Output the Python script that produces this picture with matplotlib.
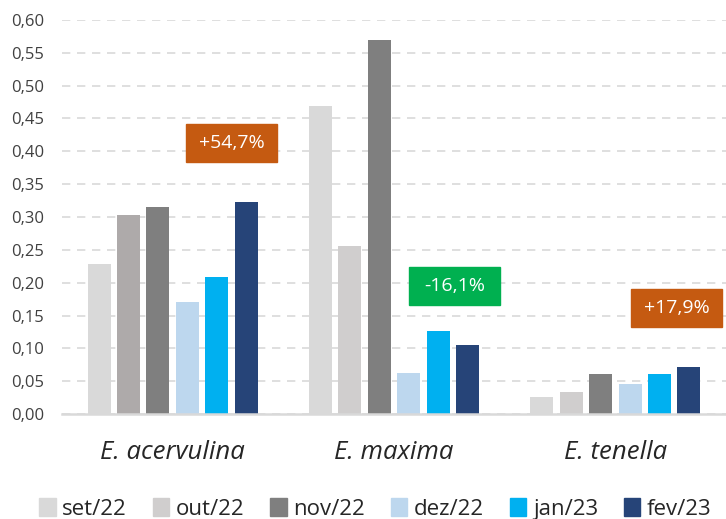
import numpy as np
import matplotlib
matplotlib.use("Agg")
import matplotlib.pyplot as plt
from matplotlib.patches import Rectangle, Patch

plt.rcParams['font.family'] = ['Open Sans', 'DejaVu Sans']

# data
species = ['E. acervulina', 'E. maxima', 'E. tenella']
months = ['set/22', 'out/22', 'nov/22', 'dez/22', 'jan/23', 'fev/23']
values = {
    'set/22': [0.229, 0.469, 0.026],
    'out/22': [0.303, 0.256, 0.034],
    'nov/22': [0.315, 0.569, 0.061],
    'dez/22': [0.171, 0.062, 0.045],
    'jan/23': [0.209, 0.126, 0.061],
    'fev/23': [0.323, 0.105, 0.071],
}
changes = ['+54,7%', '-16,1%', '+17,9%']

colors = ['#D9D9D9', '#D0CECE', '#7F7F7F', '#BDD7EE', '#00B0F0', '#264478']
# the acervulina out/22 bar is drawn darker in the original
special = {(1, 0): '#AEAAAA'}
box_colors = ['#C55A11', '#00B050', '#C55A11']
box_pos = [(0.266, 0.413), (1.274, 0.195), (2.277, 0.162)]

fig = plt.figure(figsize=(7.26, 5.19), dpi=100)
ax = fig.add_axes([0.0854, 0.2023, 0.9146, 0.7592])

x = np.arange(len(species))
step = 0.133
width = 0.104
for i, m in enumerate(months):
    off = (i - 2.5) * step
    cols = [special.get((i, j), colors[i]) for j in range(len(species))]
    ax.bar(x + off, values[m], width, color=cols, zorder=3)

# change boxes
bw, bh = 0.41, 0.058
for (cx, cy), lab, c in zip(box_pos, changes, box_colors):
    ax.add_patch(Rectangle((cx - bw / 2, cy - bh / 2), bw, bh, color=c, zorder=4))
    ax.text(cx, cy, lab, color='white', fontsize=14, ha='center', va='center', zorder=5)

ax.set_xlim(-0.5, 2.5)
ax.set_ylim(0, 0.6)
ticks = np.arange(0, 0.601, 0.05)
ax.set_yticks(ticks)
ax.set_yticklabels([('%.2f' % t).replace('.', ',') for t in ticks])
ax.set_xticks(x)
ax.set_xticklabels(species, fontsize=18.5, style='italic', color='#262626')

ax.tick_params(axis='y', length=0, pad=13, labelsize=12, labelcolor='#404040')
ax.tick_params(axis='x', length=0, pad=19)
ax.grid(axis='y', color='#D9D9D9', linestyle=(0, (5, 4)), linewidth=1.2, zorder=0)
for s in ['top', 'right', 'left']:
    ax.spines[s].set_visible(False)
ax.spines['bottom'].set_color('#D9D9D9')
ax.spines['bottom'].set_linewidth(1.8)
ax.spines['bottom'].set_zorder(4)

handles = [Patch(color=c) for c in colors]
fig.legend(handles, months, loc='lower center', bbox_to_anchor=(0.517, -0.04), ncol=6,
           frameon=False, fontsize=16, handlelength=0.75, handleheight=0.9,
           handletextpad=0.3, columnspacing=1.15, labelcolor='#262626')

fig.savefig('out.png', dpi=100)
